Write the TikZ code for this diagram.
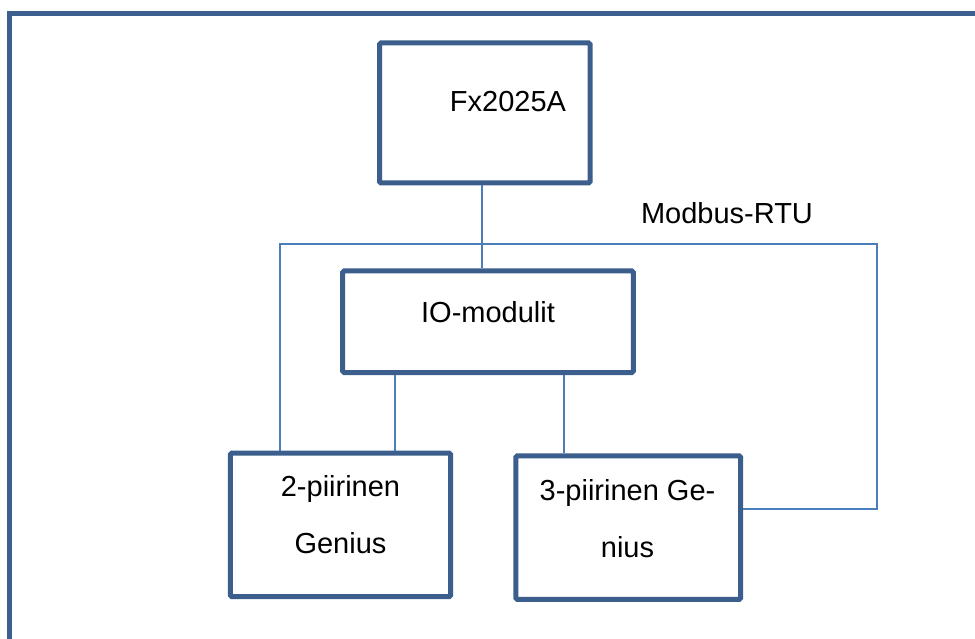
\documentclass[tikz,border=0pt]{standalone}
\usepackage{fontspec}
\setmainfont{Liberation Sans}
\definecolor{frameblue}{RGB}{60,95,143}
\definecolor{boxblue}{RGB}{59,94,140}
\definecolor{lineblue}{RGB}{74,126,187}
\begin{document}
\begin{tikzpicture}[x=1pt,y=-1pt,
  box/.style={draw=boxblue,line width=5pt,rounded corners=1.5pt,inner sep=0pt,fill=white},
  conn/.style={draw=lineblue,line width=2pt},
  txt/.style={font=\fontsize{29}{57}\selectfont,align=center,inner sep=0pt}]
\useasboundingbox (0,0) rectangle (975,639);
\begin{scope}
\clip (0,0) rectangle (975,639);
\draw[frameblue,line width=5pt] (9.7,13.5) rectangle (1000,700);
\end{scope}
% coordinates of the bus
\coordinate (bl) at (280,244);
\coordinate (j) at (482,244);
\coordinate (br) at (877,244);
\coordinate (bre) at (877,509);
% boxes
\node[box,minimum width=210.5pt,minimum height=140pt] (fx) at (484.75,113) {};
\node[box,minimum width=290.6pt,minimum height=101.5pt] (io) at (488,321.75) {};
\node[box,minimum width=220.4pt,minimum height=143.7pt] (g2) at (340.5,524.85) {};
\node[box,minimum width=224.9pt,minimum height=143.6pt] (g3) at (628.25,527.6) {};
% texts
\node[txt] (fxt) at (508,102) {Fx2025A};
\node[txt] (iot) at (488,311.7) {IO-modulit};
\node[txt] (g2t) at (340.5,515) {2-piirinen\\Genius};
\node[txt] (g3t) at (627.5,519) {3-piirinen Ge-\\nius};
\node[txt] (mod) at (727,213) {Modbus-RTU};
% connectors
\draw[conn] (j |- fx.south) -- (j |- io.north);
\draw[conn] (bl |- g2.north) -- (bl) -- (br) -- (bre) -- (bre -| g3.east);
\draw[conn] (io.south -| 395,0) -- (g2.north -| 395,0);
\draw[conn] (io.south -| 564,0) -- (g3.north -| 564,0);
\end{tikzpicture}
\end{document}
